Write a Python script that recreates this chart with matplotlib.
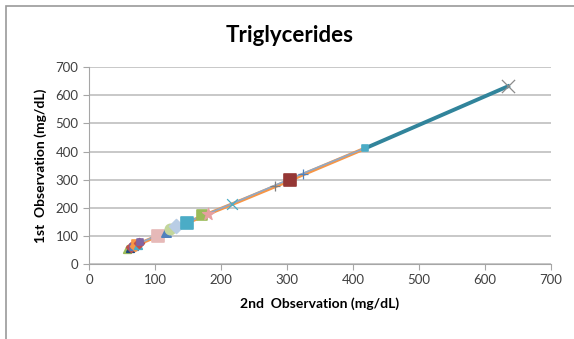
import matplotlib.pyplot as plt
from matplotlib.patches import Rectangle

plt.rcParams['font.family'] = ['Lato', 'DejaVu Sans']

# Paired readings: 2nd observation (x) vs 1st observation (y), mg/dL
obs2 = [58, 62, 64, 66, 68, 70, 72, 74, 76, 78,
        104, 117, 123, 132, 148, 171, 180, 217, 282, 305, 324, 418, 635]
obs1 = [55, 58, 62, 60, 66, 64, 70, 68, 74, 78,
        100, 114, 124, 134, 146, 174, 178, 214, 278, 300, 321, 411, 632]
markers = ['^', '^', 'D', 's', '^', 'D', 's', '^', 'D', 's',
           's', '^', 'o', 'D', 's', 's', '*', 'x', '+', 's', '+', 's', 'x']
colors = ['#9BBB59', '#1F497D', '#C0504D', '#8064A2', '#4F81BD', '#F79646',
          '#F79646', '#4BACC6', '#C0504D', '#8064A2',
          '#E6B9B8', '#4F81BD', '#C3D69B', '#B9CDE5', '#4BACC6', '#9BBB59',
          '#E6A0A0', '#4BACC6', '#7F7F7F', '#953735', '#4F81BD', '#4BACC6', '#8C8C8C']
sizes = [30, 30, 25, 25, 30, 25, 30, 30, 25, 25,
         70, 45, 55, 50, 80, 45, 80, 60, 50, 80, 50, 18, 90]

# trend segments linking the readings
orange_x = [62, 104, 148, 180, 217, 282, 305, 324, 415]
orange_y = [58, 100, 146, 178, 213, 276, 298, 318, 408]
teal_x = [418, 635]
teal_y = [411, 632]
blue_x = [62, 104, 148, 217, 324, 418]
blue_y = [60, 102, 148, 215, 322, 412]

fig = plt.figure(figsize=(5.74, 3.39), dpi=100)
fig.patches.append(Rectangle((0.011, -0.1), 1.2, 1.082, transform=fig.transFigure,
                             fill=False, edgecolor='#9a9a9a', linewidth=1.2))
ax = fig.add_axes([0.155, 0.221, 0.805, 0.581])

ax.plot(orange_x, orange_y, color='#F79646', linewidth=2.6, zorder=2)
ax.plot(blue_x, blue_y, color='#8EA9C8', linewidth=1.2, zorder=2)
ax.plot(teal_x, teal_y, color='#31849B', linewidth=2.8, zorder=2)
for x, y, m, c, s in zip(obs2, obs1, markers, colors, sizes):
    lw = 0.9 if m in ('x', '+', '*') else 1.2
    ax.scatter(x, y, marker=m, color=c, s=s, zorder=3, linewidths=lw)

ax.set_xlim(0, 700)
ax.set_ylim(0, 700)
ax.set_xticks(range(0, 701, 100))
ax.set_yticks(range(0, 701, 100))
ax.grid(axis='y', color='#BFBFBF', linewidth=1.2)
ax.set_axisbelow(True)
for side in ['top', 'right']:
    ax.spines[side].set_visible(False)
for side in ['left', 'bottom']:
    ax.spines[side].set_color('#A6A6A6')
ax.tick_params(colors='#A6A6A6', labelcolor='#404040', labelsize=9.5, length=4)

ax.set_xlabel('2nd  Observation (mg/dL)', fontsize=10, fontweight='bold', labelpad=8)
ax.set_ylabel('1st  Observation (mg/dL)', fontsize=10, fontweight='bold', labelpad=6)
fig.text(0.505, 0.895, 'Triglycerides', ha='center', va='center',
         fontsize=16, fontweight='bold')

fig.savefig('out.png', dpi=100)
